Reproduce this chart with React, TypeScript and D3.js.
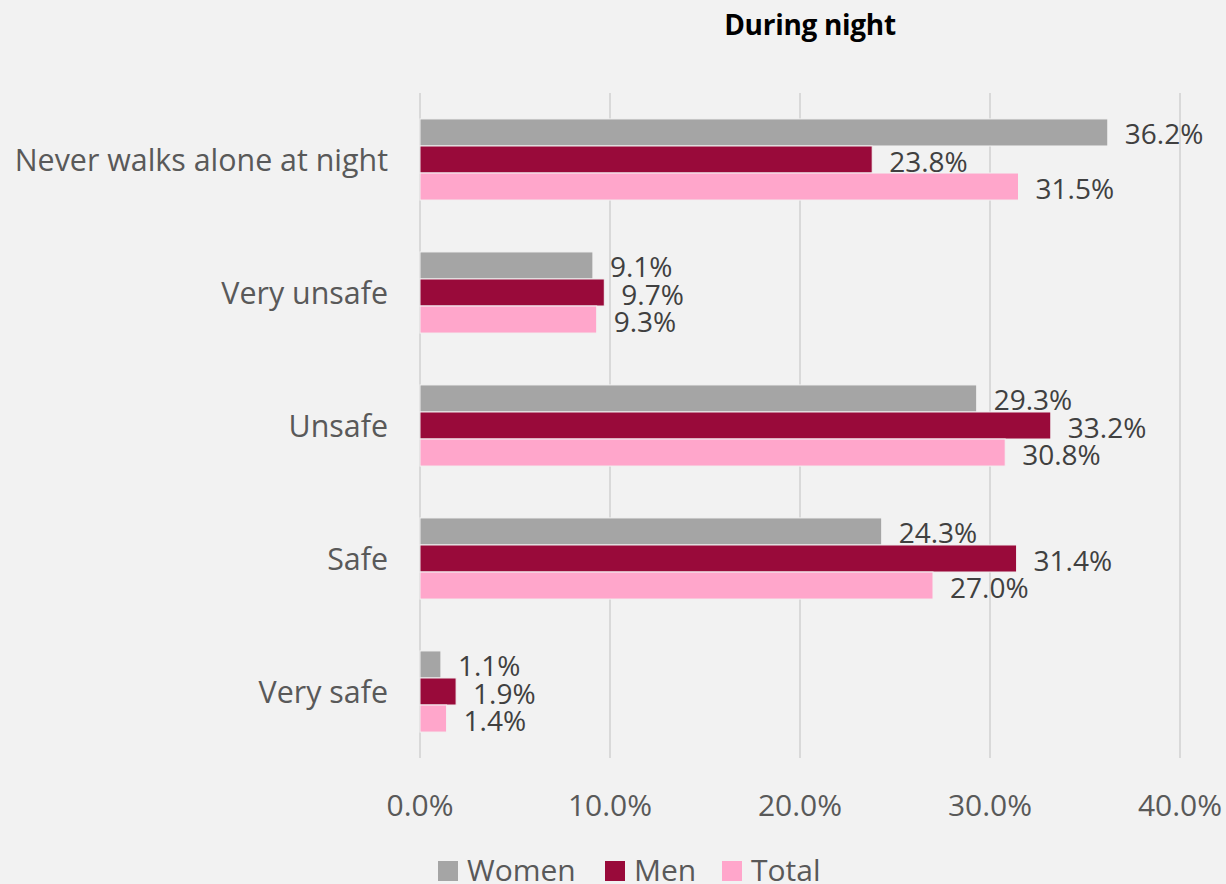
import React from "react";
import * as d3 from "d3";

const categories = ["Never walks alone at night", "Very unsafe", "Unsafe", "Safe", "Very safe"];
const seriesNames = ["Women", "Men", "Total"];
const women = [36.2, 9.1, 29.3, 24.3, 1.1];
const men = [23.8, 9.7, 33.2, 31.4, 1.9];
const total = [31.5, 9.3, 30.8, 27.0, 1.4];
const xTicks = [0, 10, 20, 30, 40];
const colors = ["#A5A5A5", "#990A3A", "#FFA6CB"];

const W = 1226, H = 884;
const font = "'Open Sans', 'Noto Sans', sans-serif";

export default function App() {
  const x = d3.scaleLinear().domain([0, 40]).range([420, 1180]);
  const y = d3.scaleBand().domain(categories).range([93, 758]).paddingInner(0.39).paddingOuter(0.195);
  const inner = d3.scaleBand().domain(seriesNames).range([0, y.bandwidth()]);
  const values = [women, men, total];
  return (
    <svg width={W} height={H} style={{ position: "absolute", left: 0, top: 0, background: "#F2F2F2" }} fontFamily={font}>
      <rect x={0} y={0} width={W} height={H} fill="#F2F2F2" />
      <text x={810} y={35} textAnchor="middle" fontSize={28} fontWeight="bold" fill="#000" letterSpacing={-0.3}>During night</text>
      {xTicks.map(t => (
        <line key={t} x1={x(t)} x2={x(t)} y1={93} y2={758} stroke="#D9D9D9" strokeWidth={2} />
      ))}
      {xTicks.map(t => (
        <text key={"l" + t} x={x(t)} y={816} textAnchor="middle" fontSize={30} fill="#595959">{d3.format(".1f")(t)}%</text>
      ))}
      {categories.map((c) => (
        <text key={c} x={388} y={(y(c) ?? 0) + y.bandwidth() / 2 + 11} textAnchor="end" fontSize={30.4} fill="#595959">{c}</text>
      ))}
      {categories.map((c, i) => (
        <g key={"g" + c}>
          {seriesNames.map((s, j) => {
            const v = values[j][i];
            const by = (y(c) ?? 0) + (inner(s) ?? 0);
            return (
              <g key={s}>
                <rect x={x(0)} y={by} width={x(v) - x(0)} height={inner.bandwidth()} fill={colors[j]} stroke="#F2F2F2" strokeWidth={1} />
                <text x={x(v) + 17} y={by + inner.bandwidth() / 2 + 12} fontSize={28} fill="#404040">{d3.format(".1f")(v)}%</text>
              </g>
            );
          })}
        </g>
      ))}
      {seriesNames.map((s, j) => {
        const lx = [438, 605, 722][j];
        return (
          <g key={"leg" + s}>
            <rect x={lx} y={861} width={20} height={20} fill={colors[j]} />
            <text x={lx + 29} y={881} fontSize={30} fill="#595959">{s}</text>
          </g>
        );
      })}
    </svg>
  );
}
